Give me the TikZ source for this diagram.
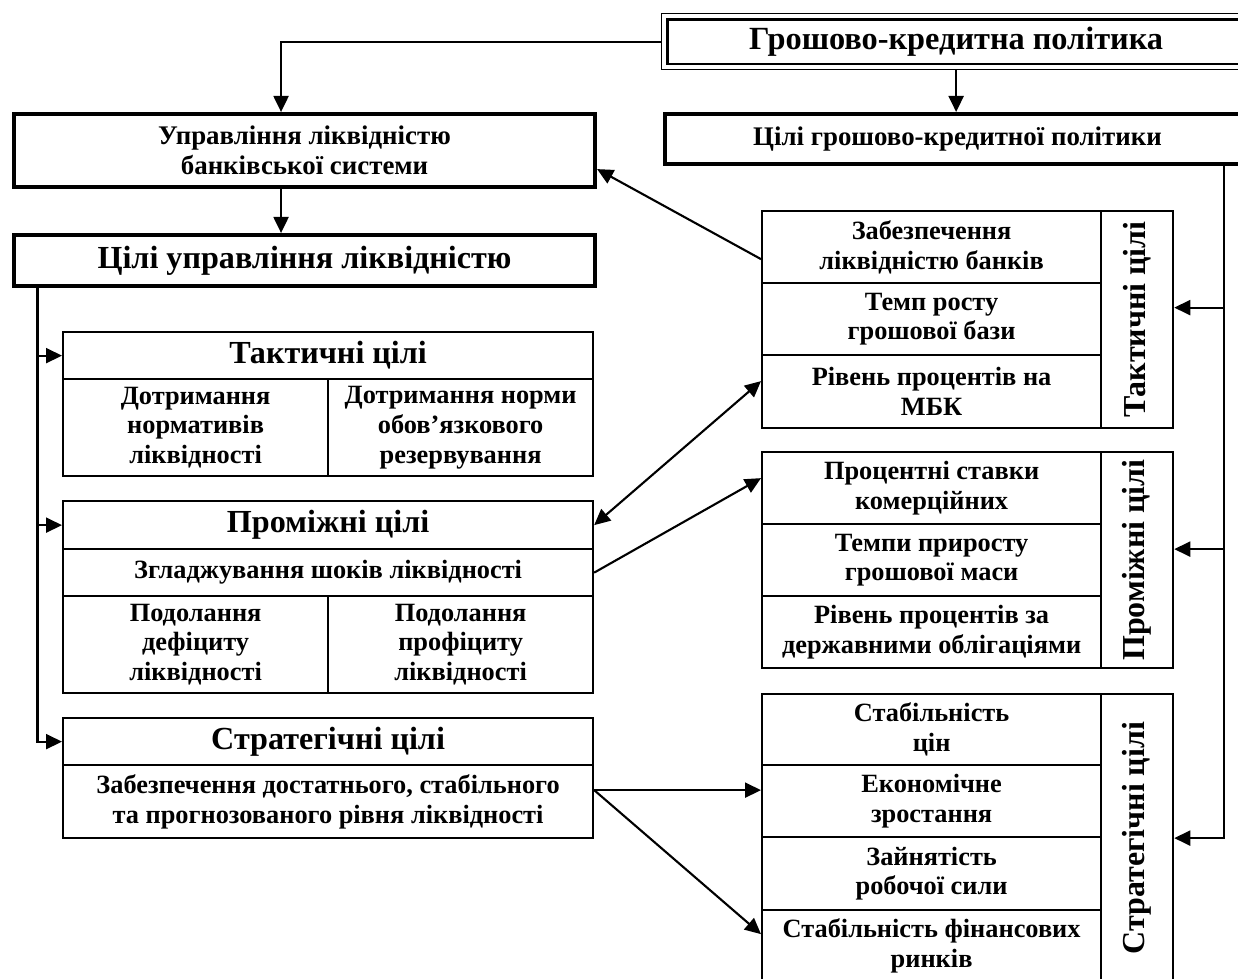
\documentclass[tikz,border=0pt]{standalone}
\usepackage{fontspec}
\setmainfont{Liberation Serif}
\usetikzlibrary{arrows.meta}

\begin{document}
\begin{tikzpicture}[x=0.02cm, y=-0.02cm,
    cell/.style={draw, line width=1.3pt, anchor=north west, inner sep=0pt, align=center,
      font=\bfseries\fontsize{15}{17}\selectfont},
    thickbox/.style={cell, line width=2.4pt, font=\bfseries\fontsize{15.3}{17}\selectfont},
    headcell/.style={cell, font=\bfseries\fontsize{18.3}{20}\selectfont},
    sidetext/.style={rotate=90, inner sep=0pt, font=\bfseries\fontsize{18.2}{20}\selectfont},
    link/.style={line width=1.2pt},
    arr/.style={link, -{Triangle[length=0.32cm, width=0.3cm]}},
    dblarr/.style={link, {Triangle[length=0.32cm, width=0.3cm]}-{Triangle[length=0.32cm, width=0.3cm]}},
  ]
  \useasboundingbox (0,0) rectangle (1238,979);

  % top part
  \node[cell, line width=0.8pt, minimum width=11.78cm, minimum height=1.12cm,
    font=\bfseries\fontsize{18.4}{21}\selectfont] (gkp) at (661,13) {Грошово-кредитна політика};
  \draw[line width=1.4pt] ([shift={(0.13cm,-0.13cm)}]gkp.north west) rectangle ([shift={(-0.13cm,0.13cm)}]gkp.south east);
  \node[thickbox, minimum width=11.7cm, minimum height=1.0cm] (cgkp) at (663,112) {Цілі грошово-кредитної політики};
  \node[thickbox, minimum width=11.62cm, minimum height=1.46cm] (ulbs) at (12,112) {Управління ліквідністю\\банківської системи};
  \node[thickbox, minimum width=11.62cm, minimum height=1.02cm,
    font=\bfseries\fontsize{18.3}{20}\selectfont] (cul) at (12,233) {Цілі управління ліквідністю};

  % left tables
  \node[headcell, minimum width=10.6cm, minimum height=0.94cm] (th) at (62,331) {Тактичні цілі};
  \node[cell, minimum width=5.3cm, minimum height=1.94cm] (tl) at (62,378) {Дотримання\\нормативів\\ліквідності};
  \node[cell, minimum width=5.3cm, minimum height=1.94cm] (tr) at (327,378) {Дотримання норми\\обов’язкового\\резервування};

  \node[headcell, minimum width=10.6cm, minimum height=0.96cm] (ph) at (62,500) {Проміжні цілі};
  \node[cell, minimum width=10.6cm, minimum height=0.94cm] (pm) at (62,548) {Згладжування шоків ліквідності};
  \node[cell, minimum width=5.3cm, minimum height=1.94cm] (pl) at (62,595) {Подолання\\дефіциту\\ліквідності};
  \node[cell, minimum width=5.3cm, minimum height=1.94cm] (pr) at (327,595) {Подолання\\профіциту\\ліквідності};

  \node[headcell, minimum width=10.6cm, minimum height=0.94cm] (sh) at (62,717) {Стратегічні цілі};
  \node[cell, minimum width=10.6cm, minimum height=1.46cm] (sb) at (62,764) {Забезпечення достатнього, стабільного\\та прогнозованого рівня ліквідності};

  % right tables
  \node[cell, minimum width=6.78cm, minimum height=1.44cm] (rt1) at (761,210) {Забезпечення\\ліквідністю банків};
  \node[cell, minimum width=6.78cm, minimum height=1.44cm] (rt2) at (761,282) {Темп росту\\грошової бази};
  \node[cell, minimum width=6.78cm, minimum height=1.46cm] (rt3) at (761,354) {Рівень процентів на\\МБК};
  \node[cell, minimum width=1.44cm, minimum height=4.34cm] (rtl) at (1100,210) {};
  \node[sidetext] (rtlt) at (rtl.center) {Тактичні цілі};

  \node[cell, minimum width=6.78cm, minimum height=1.44cm] (rp1) at (761,451) {Процентні ставки\\комерційних};
  \node[cell, minimum width=6.78cm, minimum height=1.44cm] (rp2) at (761,523) {Темпи приросту\\грошової маси};
  \node[cell, minimum width=6.78cm, minimum height=1.44cm] (rp3) at (761,595) {Рівень процентів за\\державними облігаціями};
  \node[cell, minimum width=1.44cm, minimum height=4.32cm] (rpl) at (1100,451) {};
  \node[sidetext] (rplt) at (rpl.center) {Проміжні цілі};

  \node[cell, minimum width=6.78cm, minimum height=1.42cm] (rs1) at (761,693) {Стабільність\\цін};
  \node[cell, minimum width=6.78cm, minimum height=1.44cm] (rs2) at (761,764) {Економічне\\зростання};
  \node[cell, minimum width=6.78cm, minimum height=1.46cm] (rs3) at (761,836) {Зайнятість\\робочої сили};
  \node[cell, minimum width=6.78cm, minimum height=1.44cm] (rs4) at (761,909) {Стабільність фінансових\\ринків};
  \node[cell, minimum width=1.44cm, minimum height=5.76cm] (rsl) at (1100,693) {};
  \node[sidetext] (rslt) at (rsl.center) {Стратегічні цілі};

  % connectors
  \draw[arr] (gkp.west) -| ([xshift=-0.47cm]ulbs.north);
  \draw[arr] (gkp.south) -- (gkp.south |- cgkp.north);
  \draw[arr] ([xshift=-0.47cm]ulbs.south) -- ([xshift=-0.47cm]cul.north);

  \coordinate (lv) at ([xshift=0.51cm]cul.south west);
  \draw[arr] (lv) |- (sh.west);
  \draw[arr] (lv |- th.west) -- (th.west);
  \draw[arr] (lv |- ph.west) -- (ph.west);

  \coordinate (rv) at ([xshift=-0.56cm]cgkp.south east);
  \coordinate (tin) at ([yshift=0.24cm]rtl.east);
  \coordinate (pin) at ([yshift=0.22cm]rpl.east);
  \draw[arr] (rv) |- (rsl.east);
  \draw[arr] (rv |- tin) -- (tin);
  \draw[arr] (rv |- pin) -- (pin);

  \draw[arr] ([yshift=-0.24cm]rt1.west) -- ([yshift=-0.37cm]ulbs.east);
  \draw[dblarr] (ph.east) -- ([yshift=0.21cm]rt3.west);
  \draw[arr] (pm.east) -- ([yshift=0.2cm]rp1.west);

  \coordinate (sout) at ([yshift=0.23cm]sb.east);
  \draw[arr] (sout) -- (sout -| rs2.west);
  \draw[arr] (sout) -- ([yshift=0.24cm]rs4.west);
\end{tikzpicture}
\end{document}
